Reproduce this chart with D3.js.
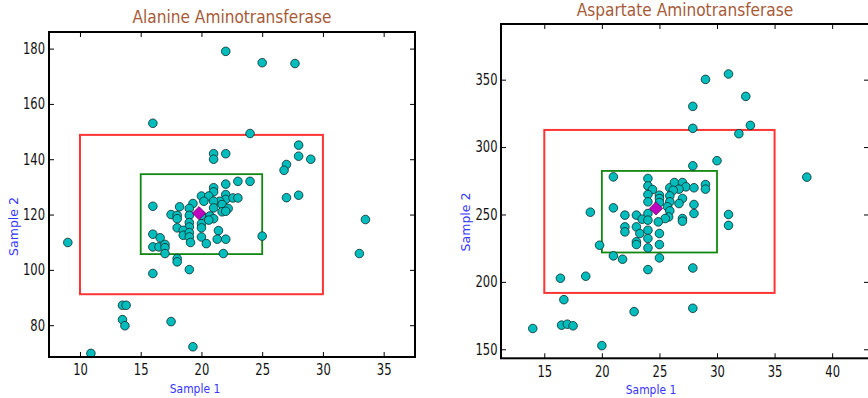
<!DOCTYPE html>
<html>
<head>
<meta charset="utf-8">
<script src="https://cdn.jsdelivr.net/npm/d3@7"></script>
<style>
  body { margin: 0; background: #fff; }
  svg { display: block; font-family: "DejaVu Sans", sans-serif; }
</style>
</head>
<body>
<svg width="868" height="398"></svg>
<script>
// Alanine Aminotransferase
const altSample1 = [22.0, 25.0, 27.7, 16.0, 24.0, 28.0, 28.0, 29.0, 21.0, 21.0, 22.0, 27.0, 26.8,
  9.0, 33.0, 33.5, 13.5, 13.8, 13.5, 13.7, 17.5, 19.3, 10.9, 16.0, 19.0, 18.0, 18.0, 27.0, 28.0,
  16.0, 22.0, 23.0, 24.0, 21.0, 21.0, 20.0, 20.6, 22.0, 22.0, 22.6, 23.0, 21.5, 21.0, 20.2, 19.3,
  18.2, 19.0, 21.7, 22.2, 21.0, 21.7, 22.0, 17.5, 18.0, 18.0, 19.0, 19.0, 19.0, 20.0, 20.0, 20.0,
  20.7, 21.0, 20.6, 18.0, 18.5, 18.5, 19.0, 19.0, 19.1, 20.0, 20.4, 21.4, 21.3, 22.0, 16.0, 16.6,
  16.0, 16.5, 17.0, 17.0, 17.0, 21.8, 25.0];
const altSample2 = [179.0, 174.9, 174.6, 153.0, 149.3, 145.1, 141.1, 140.0, 142.0, 140.0, 142.0, 138.1, 136.0,
  109.9, 105.9, 118.2, 87.2, 87.2, 82.0, 79.8, 81.3, 72.2, 69.8, 98.7, 100.1, 104.1, 102.9, 126.1, 127.0,
  123.0, 131.0, 132.0, 132.0, 129.7, 128.2, 126.7, 126.7, 127.2, 125.5, 126.0, 126.0, 124.8, 124.8, 124.8, 124.0,
  122.8, 122.2, 123.6, 122.2, 122.4, 121.0, 121.2, 120.0, 119.7, 118.5, 119.7, 117.1, 115.5, 119.7, 116.7, 115.2,
  119.5, 118.5, 118.0, 115.2, 114.3, 112.5, 113.5, 111.9, 109.9, 111.9, 109.5, 114.2, 111.1, 111.1, 112.9, 111.6,
  108.3, 108.3, 109.2, 108.0, 105.9, 105.9, 112.2];
const altMean = [19.8, 120.5];
const altInnerBox = [15, 25, 105.7, 134.6];   // x0, x1, y0, y1
const altOuterBox = [10, 30, 91.2, 148.8];
const altXTicks = [10, 15, 20, 25, 30, 35];
const altYTicks = [80, 100, 120, 140, 160, 180];

// Aspartate Aminotransferase
const astSample1 = [29.0, 31.0, 32.5, 27.9, 27.9, 32.9, 31.9, 30.0, 27.9, 37.8, 31.0, 31.0, 27.9, 27.9,
  19.0, 16.4, 18.6, 16.7, 16.5, 17.0, 17.5, 14.0, 22.8, 20.0, 24.0,
  21.0, 24.0, 24.0, 24.4, 24.0, 24.0, 25.0, 25.0, 25.0, 25.9, 26.3, 27.0, 27.3, 26.7, 26.2, 28.0,
  29.0, 29.0, 25.9, 27.0, 25.9, 26.7, 28.0, 28.0, 25.7, 25.9, 25.8, 27.0, 27.0, 25.5, 24.9,
  21.0, 22.0, 23.0, 23.5, 24.0, 24.0, 22.0, 22.0, 23.0, 23.3, 23.0, 23.0, 24.0, 24.0, 24.0,
  25.0, 25.0, 19.8, 21.0, 21.8, 25.0];
const astSample2 = [350.2, 354.2, 337.6, 330.2, 313.9, 316.1, 309.9, 289.9, 286.1, 277.7, 250.0, 241.9, 210.3, 180.4,
  251.7, 202.7, 204.2, 186.8, 167.9, 168.6, 167.4, 165.4, 177.9, 152.7, 209.1,
  277.9, 276.7, 271.2, 268.5, 264.8, 259.4, 264.3, 261.8, 258.9, 269.8, 273.7, 273.7, 270.5, 268.8, 268.0, 269.8,
  272.2, 268.8, 263.8, 261.9, 259.4, 258.1, 257.4, 250.7, 255.7, 252.7, 248.2, 247.0, 245.0, 247.0, 244.5,
  254.9, 249.5, 249.5, 246.5, 250.7, 245.8, 240.8, 237.1, 240.8, 235.9, 229.7, 227.7, 238.3, 232.2, 225.2,
  235.9, 227.7, 227.2, 219.3, 216.8, 217.8];
const astMean = [24.7, 254.5];
const astInnerBox = [20, 30, 221.8, 282.3];
const astOuterBox = [15, 35, 191.8, 312.7];
const astXTicks = [15, 20, 25, 30, 35, 40];
const astYTicks = [150, 200, 250, 300, 350];

const svg = d3.select("svg");
const squish = 0.77; // the source image is narrower than it is tall

function panel(o) {
  const x = d3.scaleLinear().domain(o.xDom).range([o.left, o.right]);
  const y = d3.scaleLinear().domain(o.yDom).range([o.bottom, o.top]);
  const g = svg.append("g");

  // boxes first, dots go over them
  const box = (b, col, w) => g.append("rect")
    .attr("x", x(b[0])).attr("y", y(b[3]))
    .attr("width", x(b[1]) - x(b[0])).attr("height", y(b[2]) - y(b[3]))
    .attr("fill", "none").attr("stroke", col).attr("stroke-width", w);
  box(o.outer, "#ff3535", 2);
  box(o.inner, "#118811", 1.8);

  g.selectAll("circle.pt").data(o.xs.map((v, i) => [v, o.ys[i]]))
    .enter().append("circle")
    .attr("class", "pt")
    .attr("cx", d => x(d[0]))
    .attr("cy", d => y(d[1]))
    .attr("r", 4.3)
    .attr("fill", "#00bdbd")
    .attr("stroke", "#0a2a2a")
    .attr("stroke-width", 0.8);

  g.append("path")
    .attr("d", d3.symbol(d3.symbolSquare, 88)())
    .attr("transform", `translate(${x(o.mean[0])},${y(o.mean[1])}) rotate(45)`)
    .attr("fill", "#bf00bf")
    .attr("stroke", "#500050")
    .attr("stroke-width", 0.6);

  // axes on all four sides, ticks pointing in
  const ax = (axis, tr, labels, pad) => {
    const a = g.append("g").attr("transform", tr)
      .call(axis.tickSizeInner(-5).tickSizeOuter(0).tickPadding(pad));
    a.select(".domain").remove();
    a.selectAll("line").attr("stroke", "#000").attr("stroke-width", 1);
    if (!labels) a.selectAll("text").remove();
    return a;
  };
  const bx = ax(d3.axisBottom(x).tickValues(o.xTicks).tickFormat(d3.format("d")), `translate(0,${o.bottom})`, true, o.padX);
  bx.selectAll("text").attr("font-size", 15).attr("fill", "#111")
    .attr("font-family", "DejaVu Sans").attr("transform", `scale(${squish},1)`);
  ax(d3.axisTop(x).tickValues(o.xTicks), `translate(0,${o.top})`, false, 3);
  const ly = ax(d3.axisLeft(y).tickValues(o.yTicks).tickFormat(d3.format("d")), `translate(${o.left},0)`, true, 0);
  ly.selectAll("text").attr("font-size", 15).attr("fill", "#111")
    .attr("font-family", "DejaVu Sans").attr("x", 0)
    .attr("transform", `translate(${-o.padY},0) scale(${squish},1)`);
  ax(d3.axisRight(y).tickValues(o.yTicks), `translate(${o.right},0)`, false, 3);

  g.append("rect")
    .attr("x", o.left).attr("y", o.top)
    .attr("width", o.right - o.left).attr("height", o.bottom - o.top)
    .attr("fill", "none").attr("stroke", "#000").attr("stroke-width", 2);

  g.append("text")
    .attr("transform", `translate(${(o.left + o.right) / 2},${o.titleY}) scale(0.88,1)`)
    .attr("text-anchor", "middle").attr("font-size", 17.5).attr("fill", "#a65a38")
    .text(o.title);

  g.append("text")
    .attr("transform", `translate(${o.xlabX},${o.xlabY}) scale(0.86,1)`)
    .attr("text-anchor", "middle").attr("font-size", 12.5).attr("fill", "#3535ff")
    .text("Sample 1");

  g.append("text")
    .attr("transform", `translate(${o.ylabX},${o.ylabY}) rotate(-90)`)
    .attr("text-anchor", "middle").attr("font-size", 12.5).attr("fill", "#3535ff")
    .text("Sample 2");
}

panel({
  title: "Alanine Aminotransferase",
  xs: altSample1, ys: altSample2, mean: altMean,
  inner: altInnerBox, outer: altOuterBox,
  xTicks: altXTicks, yTicks: altYTicks,
  xDom: [7.45, 37.58], yDom: [68.5, 186],
  left: 49, right: 415, top: 32, bottom: 357,
  padX: 7, padY: 4,
  titleY: 23, xlabX: 195, xlabY: 392.5, ylabX: 17.5, ylabY: 226.5
});

panel({
  title: "Aspartate Aminotransferase",
  xs: astSample1, ys: astSample2, mean: astMean,
  inner: astInnerBox, outer: astOuterBox,
  xTicks: astXTicks, yTicks: astYTicks,
  xDom: [11.24, 43.2], yDom: [143.3, 391.3],
  left: 501, right: 869, top: 24, bottom: 358.3,
  padX: 8, padY: 3.5,
  titleY: 16, xlabX: 651, xlabY: 393.5, ylabX: 470, ylabY: 222
});
</script>
</body>
</html>
